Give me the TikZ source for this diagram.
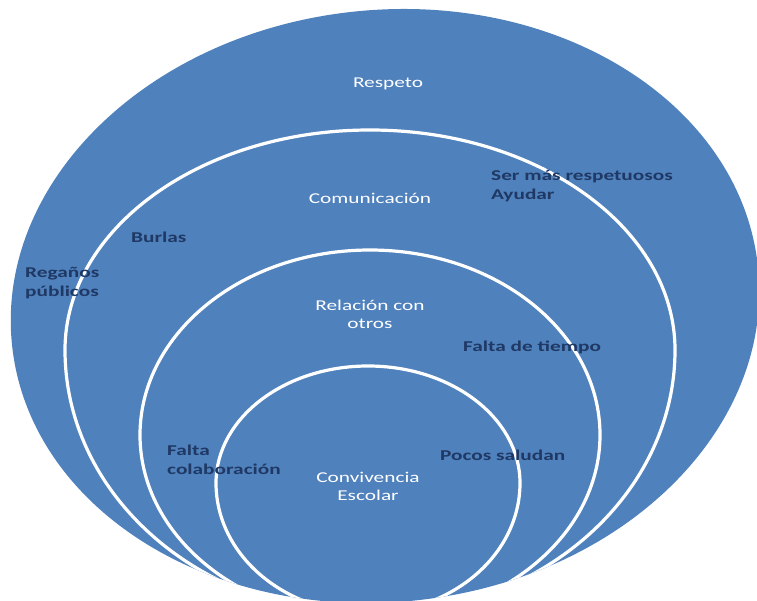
\documentclass[tikz,border=0pt]{standalone}
\usepackage{fontspec}
\setmainfont{Carlito}
\newfontfamily\labfont[FakeStretch=1.42]{Carlito}
\definecolor{fillblue}{HTML}{4F81BD}
\definecolor{darktxt}{HTML}{1F3864}
\newcommand\eggshape[5]{({#1+#3},#2) arc[start angle=0,end angle=180,x radius=#3,y radius=#5] arc[start angle=180,end angle=360,x radius=#3,y radius=#4] -- cycle}
\begin{document}
\begin{tikzpicture}[x=1pt,y=-1pt,
  ringline/.style={draw=white, line width=3.2pt},
  whitelab/.style={font=\labfont\fontsize{15}{18}\selectfont, text=white, inner sep=0pt, align=center},
  darklab/.style={font=\labfont\bfseries\fontsize{15}{19}\selectfont, text=darktxt, inner sep=0pt, align=left}]
\useasboundingbox (0,0) rectangle (757,601);
\clip (0,0) rectangle (757,601);
\fill[fillblue, rotate around={6:(385,306)}] (385,306) ellipse [x radius=375, y radius=296];
\begin{scope}
  \clip[rotate around={6:(385,306)}] (385,306) ellipse [x radius=375, y radius=296];
  \draw[ringline] \eggshape{370}{350}{305}{220}{265};
  \draw[ringline] \eggshape{370}{435}{230}{185}{185};
  \draw[ringline] \eggshape{368}{483}{152}{117}{130};
\end{scope}
\node[whitelab, anchor=base] (respeto) at (388,88) {Respeto};
\node[whitelab, anchor=base] (comunicacion) at (370,204) {Comunicación};
\node[whitelab, anchor=base] (relacion) at (370,329) {Relación con\\otros};
\node[whitelab, anchor=base] (convivencia) at (368,500) {Convivencia\\Escolar};
\node[darklab, anchor=base west] (sermas) at (491,200) {Ser más respetuosos\\Ayudar};
\node[darklab, anchor=base west] (burlas) at (131,243) {Burlas};
\node[darklab, anchor=base west] (reganos) at (25,297) {Regaños\\públicos};
\node[darklab, anchor=base west] (tiempo) at (463,352) {Falta de tiempo};
\node[darklab, anchor=base west] (colab) at (167,474) {Falta\\colaboración};
\node[darklab, anchor=base west] (pocos) at (440,460) {Pocos saludan};
\end{tikzpicture}
\end{document}
